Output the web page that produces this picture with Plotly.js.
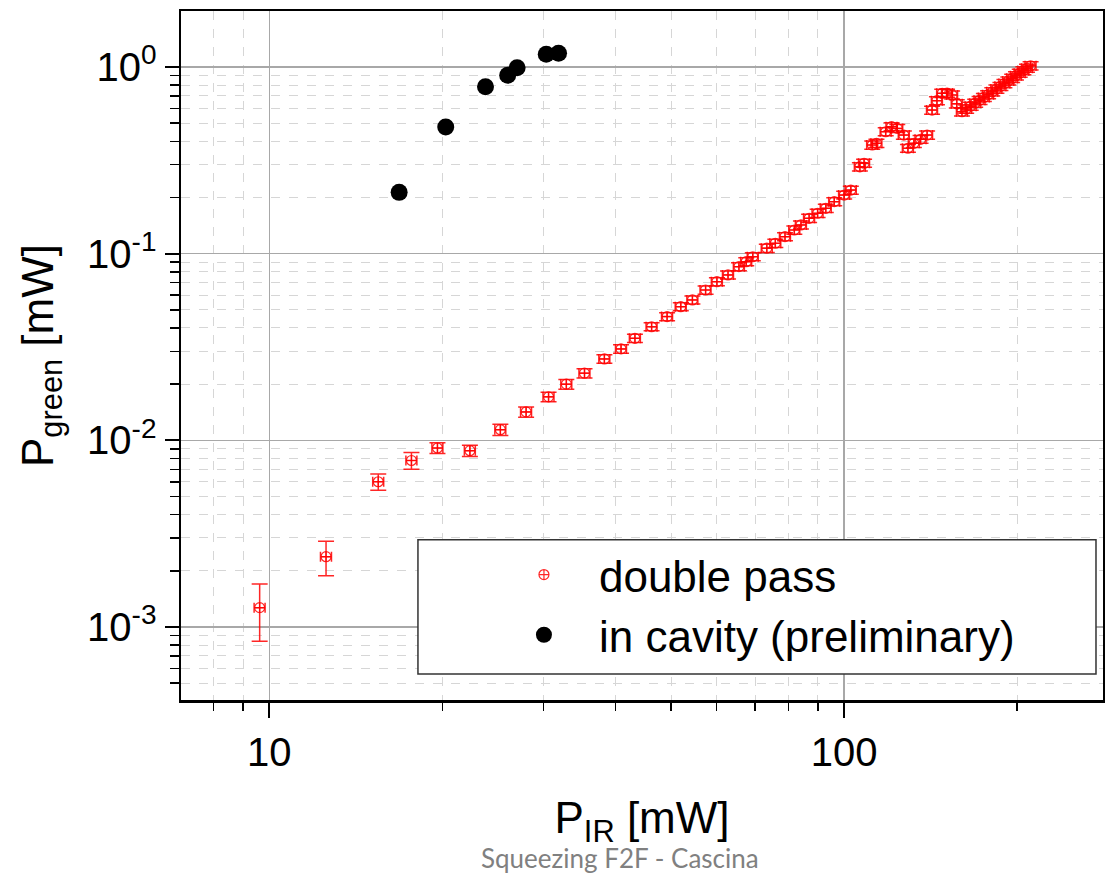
<!DOCTYPE html>
<html><head><meta charset="utf-8">
<script src="https://cdn.plot.ly/plotly-3.0.1.min.js"></script>
<style>body{margin:0;background:#fff}</style>
</head><body><div id="chart" style="width:1105px;height:875px"></div>
<script>
// double pass (red) measurements
const dpX = [9.62,12.55,15.47,17.67,19.61,22.33,25.23,27.97,30.6,32.86,35.34,38.27,40.91,43.25,46.24,49.2,51.97,54.45,57.4,60.06,62.8,65.6,67.55,69.35,73.35,75.9,78.9,81.9,84.1,86.9,89.9,92.9,96.1,100,102.7,106.5,108.3,111.9,113.8,118.1,120.9,123.7,127,129.1,132.2,135.8,139.4,142.2,145,148.1,151,154.1,157,160.3,163,166,169,172,175,178,181,184,187,190,193,196,199,202,205,208,211];
const dpY = [0.00127,0.00238,0.0060,0.0078,0.0091,0.0088,0.0114,0.0142,0.0171,0.0200,0.0229,0.0273,0.0309,0.0352,0.0406,0.046,0.052,0.0565,0.0639,0.0708,0.0769,0.0852,0.0906,0.0963,0.107,0.1137,0.1234,0.1339,0.1425,0.1547,0.1646,0.175,0.19,0.206,0.219,0.292,0.305,0.382,0.39,0.45,0.479,0.469,0.432,0.367,0.39,0.41,0.432,0.588,0.66,0.723,0.725,0.708,0.635,0.576,0.595,0.617,0.64,0.663,0.687,0.711,0.736,0.762,0.788,0.815,0.842,0.87,0.898,0.927,0.956,0.985,1.015];
const dpErrY = [0.00043,0.0005,0.0006,0.0008,0.0006,0.0006,0.0008,0.0009,0.001,0.0012,0.0013,0.0014,0.0016,0.0018,0.002,0.0023,0.0026,0.0028,0.0032,0.0035,0.0038,0.0042,0.0045,0.0048,0.0054,0.0057,0.0062,0.0067,0.0071,0.0077,0.0082,0.0088,0.0095,0.010,0.011,0.015,0.015,0.019,0.02,0.022,0.024,0.023,0.022,0.018,0.02,0.02,0.022,0.029,0.033,0.036,0.036,0.035,0.032,0.029,0.03,0.031,0.032,0.033,0.034,0.036,0.037,0.038,0.039,0.041,0.042,0.044,0.045,0.046,0.048,0.049,0.051];
const dpErrXPercent = 2.2;

// in cavity (black) measurements
const cavX = [16.82,20.27,23.77,25.98,26.98,30.32,31.85];
const cavY = [0.213,0.477,0.784,0.903,0.991,1.17,1.184];

const seriesNames = ['double pass','in cavity (preliminary)'];
const xTickVals = [10,100];
const xTickText = ['10','100'];
const yTickVals = [0.001,0.01,0.1,1];
const yTickText = ['10<sup>-3</sup>','10<sup>-2</sup>','10<sup>-1</sup>','10<sup>0</sup>'];

const FONT = 'Liberation Sans, Arial, sans-serif';
const RED = 'rgba(255,0,0,0.85)';
const xRange = [Math.log10(7.02), Math.log10(282)];
const yRange = [-3.391, 0.30];

const traces = [
  {x: dpX, y: dpY, name: seriesNames[0], type:'scatter', mode:'markers',
   marker:{symbol:'circle-cross-open', size:10, color:RED, line:{width:1.2, color:RED}},
   error_y:{type:'data', array:dpErrY, visible:true, color:RED, thickness:1.5, width:8},
   error_x:{type:'percent', value:dpErrXPercent, visible:true, color:RED, thickness:1.5, width:5}},
  {x: cavX, y: cavY, name: seriesNames[1], type:'scatter', mode:'markers',
   marker:{symbol:'circle', size:17, color:'#000'}}
];

const minorGrid = {dtick:'D1', ticks:'outside', tickwidth:1.5, tickcolor:'#000', showgrid:true, gridcolor:'#d6d6d6', griddash:'dash', gridwidth:1};

const layout = {
  width:1105, height:875,
  margin:{l:181, r:2, t:11, b:175},
  paper_bgcolor:'#fff', plot_bgcolor:'#fff',
  font:{family:FONT, color:'#000'},
  showlegend:true,
  legend:{x:0.334, xanchor:'left', y:0.233, yanchor:'top', bgcolor:'rgba(0,0,0,0)', borderwidth:0,
          font:{size:44, family:FONT, color:'#000'}, itemwidth:100},
  xaxis:{type:'log', range:xRange, tickmode:'array', tickvals:xTickVals, ticktext:xTickText,
         ticks:'outside', ticklen:15, tickwidth:2, tickcolor:'#000',
         showline:true, linewidth:2.5, linecolor:'#000', mirror:true,
         showgrid:true, gridcolor:'#a8a8a8', gridwidth:1.5, zeroline:false,
         minor:Object.assign({}, minorGrid, {ticklen:8}),
         tickfont:{size:40, family:FONT}, automargin:false,
         title:{text:'P<sub>IR</sub> [mW]', font:{size:44, family:FONT}, standoff:30}},
  xaxis2:{type:'log', range:xRange, overlaying:'x', side:'top', anchor:'y', tickmode:'array', tickvals:xTickVals,
         ticks:'inside', ticklen:12, tickwidth:2, tickcolor:'#000', showticklabels:false, showgrid:false, showline:false,
         zeroline:false, minor:{dtick:'D1', ticks:'inside', ticklen:7, tickwidth:1.5, tickcolor:'#000', showgrid:false}},
  yaxis:{type:'log', range:yRange, tickmode:'array', tickvals:yTickVals, ticktext:yTickText,
         ticks:'outside', ticklen:14, tickwidth:2, tickcolor:'#000',
         showline:true, linewidth:2.5, linecolor:'#000', mirror:true,
         showgrid:true, gridcolor:'#a8a8a8', gridwidth:1.5, zeroline:false,
         minor:Object.assign({}, minorGrid, {ticklen:9}),
         tickfont:{size:40, family:FONT}, automargin:false,
         title:{text:'P<sub>green</sub> [mW]', font:{size:44, family:FONT}, standoff:20}},
  yaxis2:{type:'log', range:yRange, overlaying:'y', side:'right', anchor:'x', tickmode:'array', tickvals:yTickVals,
         ticks:'inside', ticklen:10, tickwidth:2, tickcolor:'#000', showticklabels:false, showgrid:false, showline:false,
         zeroline:false},
  shapes:[{type:'rect', xref:'paper', yref:'paper', x0:0.257, x1:0.9924, y0:0.0376, y1:0.2327,
           line:{color:'#333', width:1.5}, fillcolor:'#fff', layer:'above'}],
  annotations:[{text:'Squeezing F2F - Cascina', xref:'paper', yref:'paper', x:0.476, y:-0.23,
                xanchor:'center', yanchor:'middle', showarrow:false,
                font:{family:'Lato, Open Sans, sans-serif', size:26, color:'#808080'}}]
};

Plotly.newPlot('chart', traces, layout, {displayModeBar:false, staticPlot:true});
</script>
</body></html>
